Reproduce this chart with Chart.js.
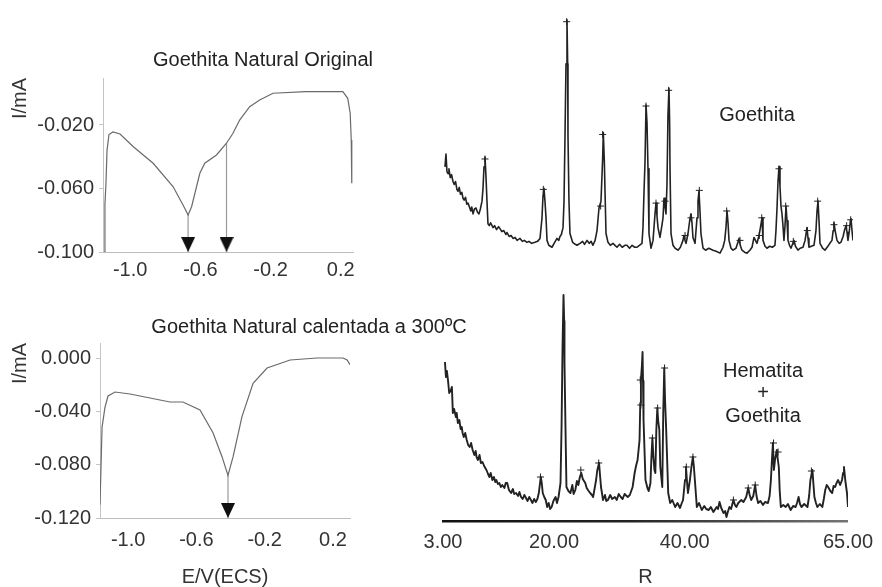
<!DOCTYPE html>
<html>
<head>
<meta charset="utf-8">
<script src="https://cdn.jsdelivr.net/npm/chart.js@4.4.1/dist/chart.umd.min.js"></script>
<style>
  body { margin: 0; background: #fff; }
  #wrap { position: relative; width: 882px; height: 587px; overflow: hidden;
          font-family: 'Liberation Sans', Arial, sans-serif; color: #222; }
  #wrap canvas { position: absolute; left: 0; top: 0; }
  .lbl { position: absolute; font-size: 20px; line-height: 20px; white-space: nowrap;
         transform: translate(-50%, -50%); text-align: center; }
</style>
</head>
<body>
<div id="wrap">
  <canvas id="cvTop" width="882" height="587"></canvas>
  <canvas id="cvBot" width="882" height="587"></canvas>
  <canvas id="xrdTop" width="882" height="587"></canvas>
  <canvas id="xrdBot" width="882" height="587"></canvas>
  <div class="lbl" style="left:263px;top:59px">Goethita Natural Original</div>
  <div class="lbl" style="left:309px;top:326px">Goethita Natural calentada a 300ºC</div>
  <div class="lbl" style="left:757px;top:114px">Goethita</div>
  <div class="lbl" style="left:763px;top:370px">Hematita</div>
  <div class="lbl" style="left:763px;top:392px">+</div>
  <div class="lbl" style="left:763px;top:415px">Goethita</div>
</div>
<script>
// ---- voltammogram, goethita natural original ----
const cvTopE = [-1.149, -1.144, -1.138, -1.132, -1.121, -1.098, -1.058, -0.982, -0.869, -0.755, -0.689, -0.670,
  -0.650, -0.622, -0.603, -0.575, -0.508, -0.451, -0.414, -0.376, -0.319, -0.262, -0.186, 0.000, 0.212,
  0.240, 0.254, 0.260, 0.263];
const cvTopI = [-0.100, -0.070, -0.0565, -0.036, -0.026, -0.0244, -0.0257, -0.0337, -0.0441, -0.0589, -0.0725, -0.0767,
  -0.0715, -0.0589, -0.0504, -0.0441, -0.0389, -0.0315, -0.0252, -0.0169, -0.0085, -0.0043, 0.0000, 0.0010, 0.0010,
  -0.0032, -0.0126, -0.0294, -0.0567];
const cvTopArrowE = [-0.670, -0.451];
const cvTopArrowFrom = [-0.0767, -0.0315];
const cvTopTicksY = [-0.100, -0.060, -0.020];

// ---- voltammogram, calentada a 300 C ----
const cvBotE = [-1.165, -1.153, -1.136, -1.118, -1.077, -0.989, -0.872, -0.755, -0.679, -0.579, -0.503, -0.450,
  -0.415, -0.385, -0.333, -0.268, -0.186, -0.051, 0.107, 0.259, 0.283, 0.300];
const cvBotI = [-0.110, -0.052, -0.037, -0.0285, -0.0255, -0.027, -0.030, -0.033, -0.033, -0.039, -0.056, -0.074,
  -0.088, -0.074, -0.044, -0.019, -0.0075, -0.0015, 0.000, 0.000, -0.0015, -0.005];
const cvBotArrowE = [-0.415];
const cvBotArrowFrom = [-0.088];
const cvBotTicksY = [-0.120, -0.080, -0.040, 0.000];

const cvTicksX = [-1.0, -0.6, -0.2, 0.2];

// ---- XRD, goethita ----
const xrdTopTheta = [3.3, 3.45, 3.6, 3.76, 3.9, 4.1, 4.3, 4.51, 4.7, 4.9, 5.1, 5.27, 5.45, 5.65, 5.85, 6.02, 6.2, 6.4,
  6.6, 6.78, 7.0, 7.2, 7.35, 7.54, 7.75, 7.99, 8.2, 8.44, 8.65, 8.9, 9.05, 9.2, 9.35, 9.5, 9.65, 9.8, 10.0, 10.2,
  10.56, 10.8, 11.1, 11.4, 11.62, 11.9, 12.2, 12.5, 12.68, 13.0, 13.3, 13.59, 13.9, 14.2, 14.64, 15.0, 15.3, 15.7,
  16.0, 16.4, 16.91, 17.3, 17.67, 17.97, 18.12, 18.27, 18.42, 18.58, 18.73, 19.0, 19.48, 19.8, 20.24, 20.5, 20.69,
  20.9, 21.15, 21.3, 21.45, 21.6, 21.75, 21.85, 21.9, 22.05, 22.2, 22.6, 23.0, 23.26, 23.72, 24.1, 24.4, 24.78,
  25.1, 25.4, 25.68, 26.0, 26.29, 26.59, 26.89, 27.14, 27.24, 27.4, 27.5, 27.65, 27.95, 28.3, 28.7, 29.31, 29.7,
  30.1, 30.5, 30.82, 31.2, 31.6, 32.0, 32.34, 32.7, 33.09, 33.24, 33.4, 33.55, 33.7, 33.85, 34.0, 34.15, 34.45,
  34.76, 35.06, 35.21, 35.36, 35.51, 35.81, 36.1, 36.27, 36.42, 36.57, 36.72, 36.87, 37.02, 37.17, 37.27, 37.33,
  37.48, 37.78, 38.1, 38.54, 38.9, 39.29, 39.44, 39.6, 39.75, 40.05, 40.3, 40.5, 40.65, 40.8, 41.11, 41.41, 41.56,
  41.71, 41.86, 42.01, 42.32, 42.7, 43.2, 43.83, 44.3, 44.89, 45.34, 45.6, 45.79, 45.95, 46.1, 46.25, 46.55, 46.85,
  47.3, 47.6, 47.76, 47.95, 48.21, 48.6, 48.97, 49.4, 49.73, 50.03, 50.25, 50.48, 50.79, 51.0, 51.24, 51.39, 51.7,
  51.99, 52.4, 52.8, 53.2, 53.35, 53.51, 53.66, 53.81, 53.96, 54.11, 54.26, 54.41, 54.56, 54.72, 54.87, 55.02,
  55.17, 55.4, 55.62, 55.85, 56.08, 56.3, 56.68, 57.0, 57.44, 57.75, 58.04, 58.2, 58.34, 58.7, 59.1, 59.4, 59.56,
  59.71, 59.86, 60.01, 60.4, 60.76, 61.2, 61.5, 61.82, 62.0, 62.12, 62.3, 62.58, 62.9, 63.18, 63.5, 63.7, 63.94,
  64.1, 64.24, 64.45, 64.6, 64.7, 64.85, 65.0];
const xrdTopInt = [95, 108, 90, 88, 93, 84, 87, 80, 77, 80, 72, 70, 74, 67, 69, 63, 61, 64,
  57, 58, 54, 50, 54, 47, 52, 53, 49, 47, 52, 60, 73, 95, 105, 85, 60, 37, 35, 38,
  33, 35, 31, 34, 32, 29, 30, 26, 28, 24, 25, 22, 23, 20, 22, 19, 20, 18,
  19, 17, 18, 19, 22, 43, 65, 73, 60, 43, 20, 15, 13, 17, 22, 20, 24,
  26, 33, 60, 127, 200, 245, 200, 127, 60, 27, 18, 16, 15, 17, 19, 16, 20,
  17, 19, 15, 20, 30, 53, 60, 103, 130, 100, 70, 27, 18, 15, 17, 13, 16,
  13, 15, 15, 12, 15, 13, 13, 15, 17, 33, 70, 100, 158, 140, 93, 27, 12,
  20, 47, 58, 45, 33, 23, 35, 43, 63, 55, 47, 77, 147, 175, 140, 93,
  27, 15, 12, 10, 13, 20, 25, 20, 17, 27, 40, 47, 38, 23, 17, 43, 60,
  70, 50, 27, 12, 10, 12, 10, 9, 7, 13, 20, 33, 50, 38, 20, 12, 10,
  12, 18, 22, 15, 10, 8, 7, 10, 13, 23, 20, 17, 25, 33, 43, 20, 14,
  12, 14, 13, 15, 30, 53, 80, 95, 75, 55, 47, 35, 20, 35, 55, 40,
  20, 15, 12, 16, 20, 14, 10, 12, 13, 20, 33, 22, 13, 14, 15, 30, 50,
  60, 40, 17, 12, 10, 14, 17, 20, 30, 38, 30, 20, 17, 18, 24, 30, 35,
  28, 20, 30, 40, 42, 30, 20];
const xrdTopPeakTheta = [9.35, 18.17, 21.7, 26.84, 27.14, 33.7, 35.21, 36.57, 37.12, 39.6, 40.5, 41.76, 45.9,
  47.91, 50.83, 51.2, 53.81, 54.82, 55.97, 58.09, 59.66, 62.12, 64.04, 64.65];
const xrdTopPeakInt = [103, 72, 243, 55, 128, 157, 58, 60, 173, 25, 43, 71, 50, 20, 25, 43, 93, 55, 19, 30, 60,
  36, 35, 41];

// ---- XRD, hematita + goethita ----
const xrdBotTheta = [3.3, 3.45, 3.6, 3.76, 3.95, 4.21, 4.36, 4.51, 4.7, 4.97, 5.1, 5.27, 5.5, 5.7, 5.87, 6.0, 6.18,
  6.4, 6.63, 6.85, 7.08, 7.3, 7.54, 7.8, 8.0, 8.14, 8.35, 8.59, 8.8, 9.05, 9.3, 9.65, 9.9, 10.11, 10.3, 10.56, 10.8,
  11.0, 11.17, 11.4, 11.62, 11.85, 12.07, 12.4, 12.6, 12.83, 13.1, 13.43, 13.7, 13.9, 14.19, 14.5, 14.7, 14.95,
  15.2, 15.45, 15.7, 15.95, 16.2, 16.46, 16.7, 16.95, 17.21, 17.45, 17.67, 17.97, 18.12, 18.27, 18.5, 18.73,
  18.95, 19.18, 19.4, 19.63, 19.9, 20.24, 20.45, 20.69, 20.99, 21.15, 21.3, 21.45, 21.55, 21.6, 21.75, 21.9, 22.2,
  22.51, 22.8, 23.0, 23.26, 23.5, 23.72, 23.95, 24.17, 24.4, 24.78, 25.0, 25.3, 25.53, 25.8, 25.98, 26.2, 26.44,
  26.6, 26.89, 27.05, 27.19, 27.5, 27.8, 28.0, 28.25, 28.6, 28.9, 29.31, 29.6, 29.9, 30.22, 30.5, 30.8, 31.28,
  31.6, 32.03, 32.34, 32.55, 32.79, 33.09, 33.2, 33.3, 33.45, 33.55, 33.62, 33.7, 34.0, 34.3, 34.5, 34.76, 34.91,
  35.06, 35.2, 35.37, 35.51, 35.66, 35.81, 35.95, 36.12, 36.27, 36.57, 36.72, 36.87, 37.0, 37.17, 37.48, 37.78,
  38.1, 38.54, 38.9, 39.29, 39.5, 39.75, 40.05, 40.2, 40.35, 40.5, 40.8, 41.05, 41.26, 41.4, 41.56, 41.86, 42.2,
  42.62, 43.0, 43.3, 43.68, 44.0, 44.4, 44.89, 45.1, 45.34, 45.6, 45.95, 46.2, 46.4, 46.6, 46.85, 47.1, 47.46,
  47.7, 47.91, 48.2, 48.67, 49.0, 49.42, 49.73, 49.95, 50.18, 50.5, 50.79, 51.0, 51.24, 51.6, 51.99, 52.3, 52.75,
  53.0, 53.2, 53.35, 53.51, 53.66, 53.85, 54.11, 54.25, 54.41, 54.55, 54.72, 55.1, 55.47, 55.8, 56.23, 56.6,
  56.98, 57.2, 57.44, 57.65, 57.89, 58.3, 58.8, 59.05, 59.25, 59.56, 59.7, 59.86, 60.1, 60.31, 60.7, 61.07, 61.3,
  61.52, 61.75, 61.97, 62.3, 62.58, 62.8, 63.03, 63.25, 63.49, 63.8, 64.09, 64.25, 64.39, 64.6, 64.85, 65.0];
const xrdBotInt = [159, 144, 150, 141, 128, 131, 134, 108, 112, 104, 108, 98, 101, 92, 94, 88, 84,
  88, 81, 76, 74, 78, 71, 66, 70, 64, 61, 66, 58, 59, 55, 51, 47, 44, 48, 41, 44,
  39, 41, 37, 38, 34, 36, 33, 38, 38, 31, 28, 32, 27, 28, 25, 29, 24,
  22, 26, 23, 20, 24, 21, 18, 22, 19, 22, 28, 44, 38, 28, 24, 21,
  14, 18, 12, 14, 20, 24, 18, 24, 38, 94, 174, 226, 200, 158, 94, 34, 30,
  28, 36, 27, 31, 40, 36, 44, 48, 42, 38, 33, 30, 28, 26, 24, 32, 41,
  50, 58, 45, 34, 21, 26, 20, 21, 26, 22, 24, 21, 27, 24, 22, 27, 24,
  26, 34, 48, 55, 61, 81, 118, 141, 155, 169, 140, 101, 41, 33, 30, 38, 64,
  83, 65, 51, 48, 91, 113, 100, 91, 54, 34, 108, 153, 120, 91, 28, 18,
  21, 14, 18, 13, 17, 21, 41, 54, 40, 28, 41, 55, 64, 55, 41, 14, 18,
  11, 15, 12, 11, 14, 9, 14, 12, 19, 13, 8, 10, 4, 9, 14, 12, 21,
  16, 14, 18, 21, 19, 24, 33, 26, 21, 25, 36, 25, 18, 20, 16, 19, 18,
  25, 41, 60, 78, 51, 62, 71, 62, 54, 30, 14, 16, 14, 17, 11, 15,
  14, 18, 24, 17, 14, 17, 14, 25, 41, 51, 38, 24, 18, 14, 17, 14, 22,
  31, 36, 34, 30, 28, 35, 34, 38, 41, 36, 41, 48, 54, 40, 28, 14];
const xrdBotPeakTheta = [17.92, 24.1, 26.84, 33.2, 33.29, 35.06, 35.86, 36.92, 40.25, 41.26, 47.46, 49.73, 50.8,
  53.6, 54.3, 59.4];
const xrdBotPeakInt = [44, 51, 58, 141, 116, 83, 113, 153, 54, 64, 21, 33, 36, 78, 69, 50];
const xrdTicks = [3, 20, 40, 65];

Chart.defaults.font.family = "'Liberation Sans', Arial, sans-serif";
Chart.defaults.font.size = 20;
Chart.defaults.color = '#333';

const W = 882, H = 587;

function pts(xs, ys) {
  return xs.map((x, i) => ({ x: x, y: ys[i] }));
}

// arrow head drawn as an image point; tip sits on the point itself
function arrowHead() {
  const c = document.createElement('canvas');
  c.width = 14; c.height = 32;
  const g = c.getContext('2d');
  g.fillStyle = '#111';
  g.beginPath();
  g.moveTo(0, 1); g.lineTo(14, 1); g.lineTo(7, 16);
  g.closePath();
  g.fill();
  return c;
}
const head = arrowHead();

function cvChart(id, E, I, arrE, arrFrom, yTicks, xr, yr, area, xTitle, xLabelPad) {
  const datasets = [{
    data: pts(E, I),
    borderColor: '#6a6a6a',
    borderWidth: 1.2,
    pointRadius: 0,
    tension: 0
  }];
  arrE.forEach((e, i) => {
    datasets.push({
      data: [{ x: e, y: arrFrom[i] }, { x: e, y: yr[0] }],
      borderColor: '#9a9a9a',
      borderWidth: 1.2,
      pointRadius: [0, 6],
      pointStyle: head,
      clip: false
    });
  });
  return new Chart(document.getElementById(id), {
    type: 'line',
    data: { datasets: datasets },
    options: {
      responsive: false,
      animation: false,
      events: [],
      layout: { padding: { left: 0, top: area.top, right: W - area.right, bottom: 0 } },
      plugins: { legend: { display: false }, tooltip: { enabled: false } },
      scales: {
        x: {
          type: 'linear',
          min: xr[0], max: xr[1],
          grid: { display: false, drawTicks: false },
          border: { display: true, color: '#bdbdbd', width: 1, dash: [1, 5] },
          ticks: { padding: xLabelPad, callback: v => v.toFixed(1) },
          afterBuildTicks: s => { s.ticks = cvTicksX.map(v => ({ value: v })); },
          afterFit: s => { s.height = H - area.bottom; },
          title: xTitle ? { display: true, text: xTitle, padding: { top: 0, bottom: 0 }, font: { lineHeight: 1 } }
                        : { display: false }
        },
        y: {
          min: yr[0], max: yr[1],
          grid: { display: true, drawOnChartArea: false, drawTicks: true, tickLength: 4, color: '#c4c4c4' },
          border: { display: true, color: '#c4c4c4', width: 1 },
          ticks: { padding: 5, callback: v => (Math.abs(v) < 1e-9 ? '0.000' : v.toFixed(3)) },
          afterBuildTicks: s => { s.ticks = yTicks.map(v => ({ value: v })); },
          afterFit: s => { s.width = area.left; },
          title: { display: true, text: 'I/mA', align: 'end', padding: { top: 8, bottom: 0 } }
        }
      }
    }
  });
}

cvChart('cvTop', cvTopE, cvTopI, cvTopArrowE, cvTopArrowFrom, cvTopTicksY,
  [-1.155, 0.27], [-0.100, 0.0096], { left: 103, right: 353, top: 78, bottom: 252 }, null, 6);
cvChart('cvBot', cvBotE, cvBotI, cvBotArrowE, cvBotArrowFrom, cvBotTicksY,
  [-1.165, 0.30], [-0.120, 0.01125], { left: 100, right: 350, top: 343, bottom: 518 }, 'E/V(ECS)', 10);

function xrdChart(id, th, inten, pth, pint, yMax, area, showAxis, lineW) {
  const canvas = document.getElementById(id);
  // axis line fades from black to grey, as in the scan
  const fade = canvas.getContext('2d').createLinearGradient(area.left, 0, area.right, 0);
  fade.addColorStop(0, '#111');
  fade.addColorStop(0.45, '#222');
  fade.addColorStop(1, '#777');
  return new Chart(canvas, {
    type: 'line',
    data: {
      datasets: [{
        data: pts(th, inten),
        borderColor: '#222',
        borderWidth: lineW,
        pointRadius: 0,
        tension: 0,
        borderJoinStyle: 'round'
      }, {
        data: pts(pth, pint),
        showLine: false,
        pointStyle: 'cross',
        pointRadius: 3.5,
        borderColor: '#222',
        borderWidth: 1
      }]
    },
    options: {
      responsive: false,
      animation: false,
      events: [],
      layout: { padding: { left: area.left, top: area.top, right: W - area.right, bottom: 0 } },
      plugins: { legend: { display: false }, tooltip: { enabled: false } },
      scales: {
        x: {
          type: 'linear',
          min: 3, max: 65,
          display: showAxis,
          grid: { display: false, drawTicks: false },
          border: { display: true, color: fade, width: 2.5 },
          ticks: { padding: 9, callback: v => v.toFixed(2) },
          afterBuildTicks: s => { s.ticks = xrdTicks.map(v => ({ value: v })); },
          afterFit: s => { s.height = H - area.bottom; },
          title: { display: true, text: 'R', padding: { top: 0, bottom: 0 }, font: { lineHeight: 1 } }
        },
        y: { display: false, min: 0, max: yMax }
      }
    }
  });
}

xrdChart('xrdTop', xrdTopTheta, xrdTopInt, xrdTopPeakTheta, xrdTopPeakInt, 260,
  { left: 443, right: 853, top: 0, bottom: 260 }, false, 1.6);
xrdChart('xrdBot', xrdBotTheta, xrdBotInt, xrdBotPeakTheta, xrdBotPeakInt, 240,
  { left: 443, right: 853, top: 281, bottom: 521 }, true, 1.9);
</script>
</body>
</html>
